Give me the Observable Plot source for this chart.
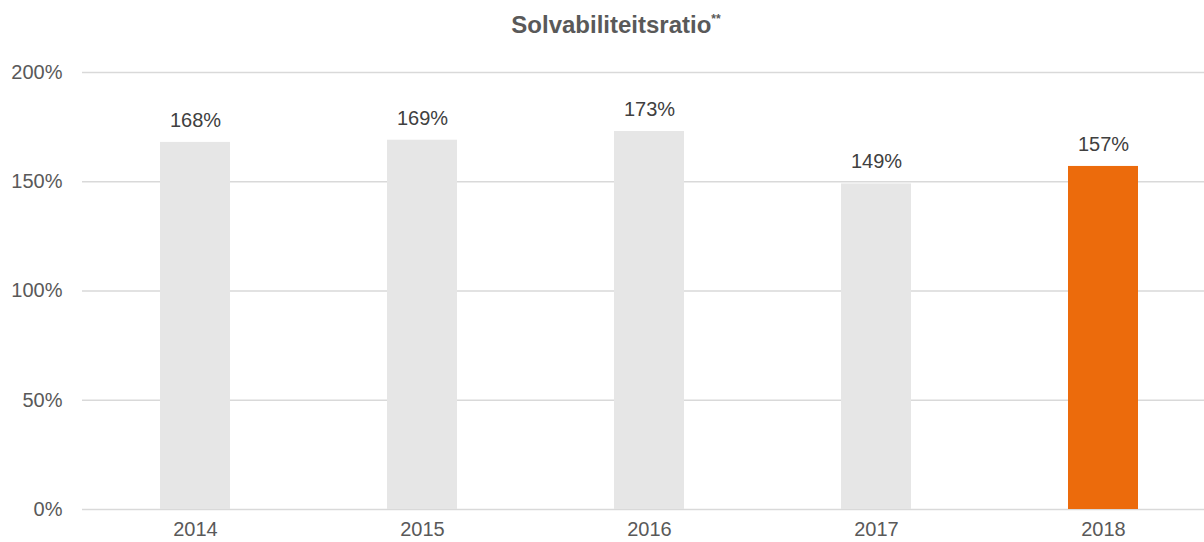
<!DOCTYPE html>
<html>
<head>
<meta charset="utf-8">
<script src="https://cdn.jsdelivr.net/npm/d3@7"></script>
<script src="https://cdn.jsdelivr.net/npm/@observablehq/plot@0.6"></script>
<style>
  html, body { margin: 0; padding: 0; background: #fff; }
  body { width: 1204px; height: 542px; overflow: hidden; font-family: "Liberation Sans", Arial, sans-serif; }
  #title { height: 50px; line-height: 50px; text-align: center; padding-left: 28px; box-sizing: border-box;
           font-size: 24px; font-weight: bold; color: #595959; }
  #title sup { font-size: 12px; vertical-align: 0; position: relative; top: -10px; }
</style>
</head>
<body>
<div id="title">Solvabiliteitsratio<sup>**</sup></div>
<div id="chart"></div>
<script>
const years = ["2014", "2015", "2016", "2017", "2018"];
const ratios = [168, 169, 173, 149, 157];
const yTicks = [0, 50, 100, 150, 200];
const highlightYear = "2018";

const data = years.map((year, i) => ({ year, value: ratios[i] }));

const chart = Plot.plot({
  width: 1204,
  height: 492,
  marginTop: 22,
  marginBottom: 33,
  marginLeft: 82,
  marginRight: 0,
  style: { fontFamily: '"Liberation Sans", Arial, sans-serif', fontSize: "20px", color: "#595959", background: "#fff" },
  x: { domain: years, range: [82, 1217], paddingInner: 0.69, paddingOuter: 0.345, label: null },
  y: { domain: [0, 200], label: null },
  marks: [
    Plot.ruleY(yTicks, { stroke: "#d9d9d9", strokeWidth: 1.5 }),
    Plot.barY(data, { x: "year", y: "value", fill: d => d.year === highlightYear ? "#ec6b0c" : "#e6e6e6" }),
    Plot.text(data, { x: "year", y: "value", text: d => d.value + "%", dy: -22, fill: "#404040", fontSize: 20 }),
    Plot.axisX({ tickSize: 0, tickPadding: 12, fontSize: 20, label: null }),
    Plot.axisY({ ticks: yTicks, tickSize: 0, tickPadding: 20, fontSize: 20, tickFormat: d => d + "%", label: null })
  ]
});
document.getElementById("chart").appendChild(chart);
</script>
</body>
</html>
